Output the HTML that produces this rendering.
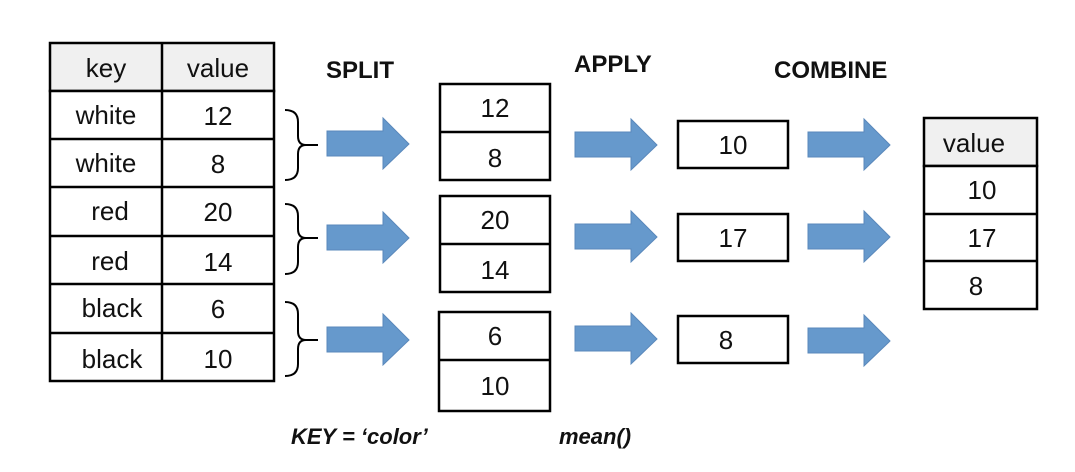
<!DOCTYPE html>
<html><head><meta charset="utf-8"><style>
html,body{margin:0;padding:0;background:#fff;width:1075px;height:472px;overflow:hidden}
svg{display:block}
text{font-family:"Liberation Sans",sans-serif;fill:#111}
.c{font-size:26px;text-anchor:middle}
.b{stroke:#000;stroke-width:2.5;fill:#fff}
.h{stroke:#000;stroke-width:2.5;fill:#f0f0f0}
.ar{fill:#6699cc;stroke:#5a88bb;stroke-width:1}
.br{fill:none;stroke:#000;stroke-width:2}
.t{font-size:24px;font-weight:bold}
.i{font-size:22px;font-weight:bold;font-style:italic}
</style></head><body>
<svg width="1075" height="472">
<g>
<rect class="h" x="50" y="43" width="224" height="48"/>
<rect class="b" x="50" y="91" width="224" height="290"/>
<line x1="162" y1="43" x2="162" y2="381" stroke="#000" stroke-width="2.5"/>
<g stroke="#000" stroke-width="2.5">
<line x1="50" y1="139" x2="274" y2="139"/><line x1="50" y1="187" x2="274" y2="187"/>
<line x1="50" y1="236" x2="274" y2="236"/><line x1="50" y1="284" x2="274" y2="284"/>
<line x1="50" y1="333" x2="274" y2="333"/></g>
<text class="c" x="106" y="77">key</text><text class="c" x="218" y="77">value</text>
<text class="c" x="106" y="124">white</text><text class="c" x="218" y="125">12</text>
<text class="c" x="106" y="172">white</text><text class="c" x="218" y="173">8</text>
<text class="c" x="110" y="220">red</text><text class="c" x="218" y="221">20</text>
<text class="c" x="110" y="270">red</text><text class="c" x="218" y="271">14</text>
<text class="c" x="112" y="317">black</text><text class="c" x="218" y="318">6</text>
<text class="c" x="112" y="368">black</text><text class="c" x="218" y="368">10</text>
</g>
<g>
<path class="br" d="M285,110 Q298,110 298,122 L298,136 Q298,145 306,145 Q298,145 298,154 L298,168 Q298,180 285,180 M306,145 L318,145"/>
<path class="br" d="M285,204 Q298,204 298,216 L298,229 Q298,238 306,238 Q298,238 298,247 L298,262 Q298,274 285,274 M306,238 L318,238"/>
<path class="br" d="M285,302 Q298,302 298,314 L298,331 Q298,340 306,340 Q298,340 298,349 L298,364 Q298,376 285,376 M306,340 L318,340"/>
</g>
<text class="t" x="326" y="78">SPLIT</text>
<text class="t" x="574" y="72">APPLY</text>
<text class="t" x="774" y="78">COMBINE</text>
<g>
<path class="ar" d="M327,131h56v-13l26,26l-26,25v-13h-56z"/>
<path class="ar" d="M327,225h56v-13l26,26l-26,25v-13h-56z"/>
<path class="ar" d="M327,327h56v-13l26,26l-26,25v-13h-56z"/>
<path class="ar" d="M575,132h56v-13l26,26l-26,25v-13h-56z"/>
<path class="ar" d="M575,224h56v-13l26,26l-26,25v-13h-56z"/>
<path class="ar" d="M575,326h56v-13l26,26l-26,25v-13h-56z"/>
<path class="ar" d="M808,132h56v-13l26,26l-26,25v-13h-56z"/>
<path class="ar" d="M808,224h56v-13l26,26l-26,25v-13h-56z"/>
<path class="ar" d="M808,328h56v-13l26,26l-26,25v-13h-56z"/>
</g>
<g>
<rect class="b" x="440" y="84" width="110" height="96"/><line x1="440" y1="132" x2="550" y2="132" stroke="#000" stroke-width="2.5"/>
<text class="c" x="495" y="117">12</text><text class="c" x="495" y="167">8</text>
<rect class="b" x="440" y="196" width="110" height="96"/><line x1="440" y1="244" x2="550" y2="244" stroke="#000" stroke-width="2.5"/>
<text class="c" x="495" y="229">20</text><text class="c" x="495" y="279">14</text>
<rect class="b" x="439" y="312" width="111" height="99"/><line x1="439" y1="360" x2="550" y2="360" stroke="#000" stroke-width="2.5"/>
<text class="c" x="495" y="345">6</text><text class="c" x="495" y="395">10</text>
</g>
<g>
<rect class="b" x="678" y="121" width="110" height="47"/><text class="c" x="733" y="154">10</text>
<rect class="b" x="678" y="214" width="110" height="47"/><text class="c" x="733" y="247">17</text>
<rect class="b" x="678" y="316" width="110" height="47"/><text class="c" x="726" y="349">8</text>
</g>
<g>
<rect class="h" x="924" y="118" width="113" height="48"/>
<rect class="b" x="924" y="166" width="113" height="143"/>
<line x1="924" y1="214" x2="1037" y2="214" stroke="#000" stroke-width="2.5"/>
<line x1="924" y1="261" x2="1037" y2="261" stroke="#000" stroke-width="2.5"/>
<text class="c" x="974" y="152">value</text>
<text class="c" x="982" y="199">10</text><text class="c" x="982" y="247">17</text><text class="c" x="976" y="295">8</text>
</g>
<text class="i" x="291" y="444">KEY = ‘color’</text>
<text class="i" x="559" y="444">mean()</text>
</svg>
</body></html>
